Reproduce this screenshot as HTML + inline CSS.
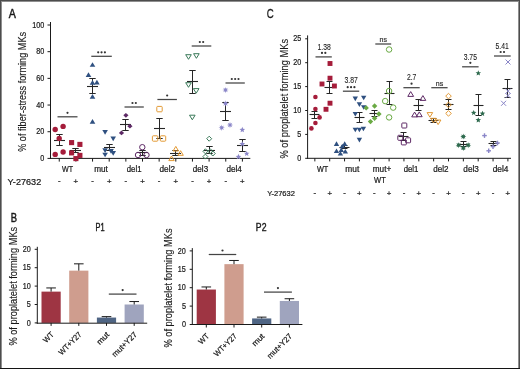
<!DOCTYPE html>
<html><head><meta charset="utf-8"><style>
html,body{margin:0;padding:0;background:#fff;}
body{width:520px;height:369px;overflow:hidden;}
svg{display:block;will-change:transform;font-family:"Liberation Sans",sans-serif;}
</style></head><body>
<svg width="520" height="369" viewBox="0 0 520 369">
<rect x="0" y="0" width="520" height="369" fill="#fff"/>
<text transform="translate(8.80,17.50) scale(0.86,1)" font-size="12.4" text-anchor="start" fill="#1a1a1a" stroke="#1a1a1a" stroke-width="0.5" >A</text>
<line x1="50.50" y1="22.00" x2="50.50" y2="158.90" stroke="#1a1a1a" stroke-width="1"/>
<line x1="50.00" y1="158.40" x2="250.30" y2="158.40" stroke="#1a1a1a" stroke-width="1"/>
<line x1="47.50" y1="158.40" x2="50.50" y2="158.40" stroke="#1a1a1a" stroke-width="1"/>
<text transform="translate(44.30,161.00) scale(0.86,1)" font-size="8.4" text-anchor="end" fill="#1a1a1a" stroke="#1a1a1a" stroke-width="0.22" >0</text>
<line x1="47.50" y1="131.72" x2="50.50" y2="131.72" stroke="#1a1a1a" stroke-width="1"/>
<text transform="translate(44.30,134.32) scale(0.86,1)" font-size="8.4" text-anchor="end" fill="#1a1a1a" stroke="#1a1a1a" stroke-width="0.22" >20</text>
<line x1="47.50" y1="105.04" x2="50.50" y2="105.04" stroke="#1a1a1a" stroke-width="1"/>
<text transform="translate(44.30,107.64) scale(0.86,1)" font-size="8.4" text-anchor="end" fill="#1a1a1a" stroke="#1a1a1a" stroke-width="0.22" >40</text>
<line x1="47.50" y1="78.36" x2="50.50" y2="78.36" stroke="#1a1a1a" stroke-width="1"/>
<text transform="translate(44.30,80.96) scale(0.86,1)" font-size="8.4" text-anchor="end" fill="#1a1a1a" stroke="#1a1a1a" stroke-width="0.22" >60</text>
<line x1="47.50" y1="51.68" x2="50.50" y2="51.68" stroke="#1a1a1a" stroke-width="1"/>
<text transform="translate(44.30,54.28) scale(0.86,1)" font-size="8.4" text-anchor="end" fill="#1a1a1a" stroke="#1a1a1a" stroke-width="0.22" >80</text>
<line x1="47.50" y1="25.00" x2="50.50" y2="25.00" stroke="#1a1a1a" stroke-width="1"/>
<text transform="translate(44.30,27.60) scale(0.86,1)" font-size="8.4" text-anchor="end" fill="#1a1a1a" stroke="#1a1a1a" stroke-width="0.22" >100</text>
<text transform="translate(25.90,91.90) rotate(-90) scale(0.915,1)" font-size="10" text-anchor="middle" fill="#1a1a1a" stroke="#1a1a1a" stroke-width="0.12" >% of fiber-stress forming MKs</text>
<line x1="59.25" y1="158.40" x2="59.25" y2="161.60" stroke="#1a1a1a" stroke-width="1"/>
<line x1="75.90" y1="158.40" x2="75.90" y2="161.60" stroke="#1a1a1a" stroke-width="1"/>
<line x1="92.55" y1="158.40" x2="92.55" y2="161.60" stroke="#1a1a1a" stroke-width="1"/>
<line x1="109.20" y1="158.40" x2="109.20" y2="161.60" stroke="#1a1a1a" stroke-width="1"/>
<line x1="125.85" y1="158.40" x2="125.85" y2="161.60" stroke="#1a1a1a" stroke-width="1"/>
<line x1="142.50" y1="158.40" x2="142.50" y2="161.60" stroke="#1a1a1a" stroke-width="1"/>
<line x1="159.15" y1="158.40" x2="159.15" y2="161.60" stroke="#1a1a1a" stroke-width="1"/>
<line x1="175.80" y1="158.40" x2="175.80" y2="161.60" stroke="#1a1a1a" stroke-width="1"/>
<line x1="192.45" y1="158.40" x2="192.45" y2="161.60" stroke="#1a1a1a" stroke-width="1"/>
<line x1="209.10" y1="158.40" x2="209.10" y2="161.60" stroke="#1a1a1a" stroke-width="1"/>
<line x1="225.75" y1="158.40" x2="225.75" y2="161.60" stroke="#1a1a1a" stroke-width="1"/>
<line x1="242.40" y1="158.40" x2="242.40" y2="161.60" stroke="#1a1a1a" stroke-width="1"/>
<text transform="translate(67.50,172.00) scale(0.87,1)" font-size="8.2" text-anchor="middle" fill="#1a1a1a" stroke="#1a1a1a" stroke-width="0.22" >WT</text>
<text transform="translate(101.00,172.00)" font-size="8.2" text-anchor="middle" fill="#1a1a1a" stroke="#1a1a1a" stroke-width="0.22" >mut</text>
<text transform="translate(134.15,172.00) scale(0.95,1)" font-size="8.2" text-anchor="middle" fill="#1a1a1a" stroke="#1a1a1a" stroke-width="0.22" >del1</text>
<text transform="translate(167.30,172.00)" font-size="8.2" text-anchor="middle" fill="#1a1a1a" stroke="#1a1a1a" stroke-width="0.22" >del2</text>
<text transform="translate(200.50,172.00) scale(0.99,1)" font-size="8.2" text-anchor="middle" fill="#1a1a1a" stroke="#1a1a1a" stroke-width="0.22" >del3</text>
<text transform="translate(234.10,172.00) scale(0.99,1)" font-size="8.2" text-anchor="middle" fill="#1a1a1a" stroke="#1a1a1a" stroke-width="0.22" >del4</text>
<text transform="translate(7.60,185.20) scale(0.95,1)" font-size="9.6" text-anchor="start" fill="#1a1a1a" stroke="#1a1a1a" stroke-width="0.22" >Y-27632</text>
<text transform="translate(59.25,183.40)" font-size="7.8" text-anchor="middle" fill="#1a1a1a" stroke="#1a1a1a" stroke-width="0.22" >-</text>
<text transform="translate(75.90,184.40)" font-size="7.8" text-anchor="middle" fill="#1a1a1a" stroke="#1a1a1a" stroke-width="0.22" >+</text>
<text transform="translate(92.55,183.40)" font-size="7.8" text-anchor="middle" fill="#1a1a1a" stroke="#1a1a1a" stroke-width="0.22" >-</text>
<text transform="translate(109.20,184.40)" font-size="7.8" text-anchor="middle" fill="#1a1a1a" stroke="#1a1a1a" stroke-width="0.22" >+</text>
<text transform="translate(125.85,183.40)" font-size="7.8" text-anchor="middle" fill="#1a1a1a" stroke="#1a1a1a" stroke-width="0.22" >-</text>
<text transform="translate(142.50,184.40)" font-size="7.8" text-anchor="middle" fill="#1a1a1a" stroke="#1a1a1a" stroke-width="0.22" >+</text>
<text transform="translate(159.15,183.40)" font-size="7.8" text-anchor="middle" fill="#1a1a1a" stroke="#1a1a1a" stroke-width="0.22" >-</text>
<text transform="translate(175.80,184.40)" font-size="7.8" text-anchor="middle" fill="#1a1a1a" stroke="#1a1a1a" stroke-width="0.22" >+</text>
<text transform="translate(192.45,183.40)" font-size="7.8" text-anchor="middle" fill="#1a1a1a" stroke="#1a1a1a" stroke-width="0.22" >-</text>
<text transform="translate(209.10,184.40)" font-size="7.8" text-anchor="middle" fill="#1a1a1a" stroke="#1a1a1a" stroke-width="0.22" >+</text>
<text transform="translate(225.75,183.40)" font-size="7.8" text-anchor="middle" fill="#1a1a1a" stroke="#1a1a1a" stroke-width="0.22" >-</text>
<text transform="translate(242.40,184.40)" font-size="7.8" text-anchor="middle" fill="#1a1a1a" stroke="#1a1a1a" stroke-width="0.22" >+</text>
<line x1="59.50" y1="134.50" x2="59.50" y2="145.50" stroke="#262626" stroke-width="1"/>
<line x1="56.30" y1="134.50" x2="62.70" y2="134.50" stroke="#262626" stroke-width="1"/>
<line x1="56.30" y1="145.50" x2="62.70" y2="145.50" stroke="#262626" stroke-width="1"/>
<line x1="54.00" y1="140.50" x2="65.00" y2="140.50" stroke="#262626" stroke-width="1.1"/>
<line x1="75.50" y1="148.50" x2="75.50" y2="152.50" stroke="#262626" stroke-width="1"/>
<line x1="72.30" y1="148.50" x2="78.70" y2="148.50" stroke="#262626" stroke-width="1"/>
<line x1="72.30" y1="152.50" x2="78.70" y2="152.50" stroke="#262626" stroke-width="1"/>
<line x1="70.00" y1="150.50" x2="81.00" y2="150.50" stroke="#262626" stroke-width="1.1"/>
<line x1="92.50" y1="78.50" x2="92.50" y2="93.50" stroke="#262626" stroke-width="1"/>
<line x1="89.30" y1="78.50" x2="95.70" y2="78.50" stroke="#262626" stroke-width="1"/>
<line x1="89.30" y1="93.50" x2="95.70" y2="93.50" stroke="#262626" stroke-width="1"/>
<line x1="87.00" y1="86.50" x2="98.00" y2="86.50" stroke="#262626" stroke-width="1.1"/>
<line x1="109.50" y1="144.50" x2="109.50" y2="150.50" stroke="#262626" stroke-width="1"/>
<line x1="106.30" y1="144.50" x2="112.70" y2="144.50" stroke="#262626" stroke-width="1"/>
<line x1="106.30" y1="150.50" x2="112.70" y2="150.50" stroke="#262626" stroke-width="1"/>
<line x1="104.00" y1="147.50" x2="115.00" y2="147.50" stroke="#262626" stroke-width="1.1"/>
<line x1="125.50" y1="119.50" x2="125.50" y2="130.50" stroke="#262626" stroke-width="1"/>
<line x1="122.30" y1="119.50" x2="128.70" y2="119.50" stroke="#262626" stroke-width="1"/>
<line x1="122.30" y1="130.50" x2="128.70" y2="130.50" stroke="#262626" stroke-width="1"/>
<line x1="120.00" y1="124.50" x2="131.00" y2="124.50" stroke="#262626" stroke-width="1.1"/>
<line x1="142.50" y1="150.50" x2="142.50" y2="155.50" stroke="#262626" stroke-width="1"/>
<line x1="139.30" y1="150.50" x2="145.70" y2="150.50" stroke="#262626" stroke-width="1"/>
<line x1="139.30" y1="155.50" x2="145.70" y2="155.50" stroke="#262626" stroke-width="1"/>
<line x1="137.00" y1="152.50" x2="148.00" y2="152.50" stroke="#262626" stroke-width="1.1"/>
<line x1="159.50" y1="118.50" x2="159.50" y2="138.50" stroke="#262626" stroke-width="1"/>
<line x1="156.30" y1="118.50" x2="162.70" y2="118.50" stroke="#262626" stroke-width="1"/>
<line x1="156.30" y1="138.50" x2="162.70" y2="138.50" stroke="#262626" stroke-width="1"/>
<line x1="154.00" y1="128.50" x2="165.00" y2="128.50" stroke="#262626" stroke-width="1.1"/>
<line x1="175.50" y1="150.50" x2="175.50" y2="155.50" stroke="#262626" stroke-width="1"/>
<line x1="172.30" y1="150.50" x2="178.70" y2="150.50" stroke="#262626" stroke-width="1"/>
<line x1="172.30" y1="155.50" x2="178.70" y2="155.50" stroke="#262626" stroke-width="1"/>
<line x1="170.00" y1="153.50" x2="181.00" y2="153.50" stroke="#262626" stroke-width="1.1"/>
<line x1="192.50" y1="70.50" x2="192.50" y2="93.50" stroke="#262626" stroke-width="1"/>
<line x1="189.30" y1="70.50" x2="195.70" y2="70.50" stroke="#262626" stroke-width="1"/>
<line x1="189.30" y1="93.50" x2="195.70" y2="93.50" stroke="#262626" stroke-width="1"/>
<line x1="187.00" y1="81.50" x2="198.00" y2="81.50" stroke="#262626" stroke-width="1.1"/>
<line x1="209.50" y1="146.50" x2="209.50" y2="153.50" stroke="#262626" stroke-width="1"/>
<line x1="206.30" y1="146.50" x2="212.70" y2="146.50" stroke="#262626" stroke-width="1"/>
<line x1="206.30" y1="153.50" x2="212.70" y2="153.50" stroke="#262626" stroke-width="1"/>
<line x1="204.00" y1="150.50" x2="215.00" y2="150.50" stroke="#262626" stroke-width="1.1"/>
<line x1="225.50" y1="102.50" x2="225.50" y2="120.50" stroke="#262626" stroke-width="1"/>
<line x1="222.30" y1="102.50" x2="228.70" y2="102.50" stroke="#262626" stroke-width="1"/>
<line x1="222.30" y1="120.50" x2="228.70" y2="120.50" stroke="#262626" stroke-width="1"/>
<line x1="220.00" y1="111.50" x2="231.00" y2="111.50" stroke="#262626" stroke-width="1.1"/>
<line x1="242.50" y1="139.50" x2="242.50" y2="151.50" stroke="#262626" stroke-width="1"/>
<line x1="239.30" y1="139.50" x2="245.70" y2="139.50" stroke="#262626" stroke-width="1"/>
<line x1="239.30" y1="151.50" x2="245.70" y2="151.50" stroke="#262626" stroke-width="1"/>
<line x1="237.00" y1="145.50" x2="248.00" y2="145.50" stroke="#262626" stroke-width="1.1"/>
<line x1="57.50" y1="116.80" x2="77.50" y2="116.80" stroke="#444" stroke-width="1.25"/>
<line x1="91.30" y1="56.30" x2="111.80" y2="56.30" stroke="#444" stroke-width="1.25"/>
<line x1="124.50" y1="107.00" x2="143.80" y2="107.00" stroke="#444" stroke-width="1.25"/>
<line x1="157.40" y1="99.50" x2="176.90" y2="99.50" stroke="#444" stroke-width="1.25"/>
<line x1="191.70" y1="46.00" x2="211.30" y2="46.00" stroke="#444" stroke-width="1.25"/>
<line x1="225.50" y1="83.00" x2="244.80" y2="83.00" stroke="#444" stroke-width="1.25"/>
<text transform="translate(266.80,18.10) scale(0.78,1)" font-size="12.4" text-anchor="start" fill="#1a1a1a" stroke="#1a1a1a" stroke-width="0.25" >C</text>
<line x1="307.60" y1="35.40" x2="307.60" y2="158.80" stroke="#1a1a1a" stroke-width="1"/>
<line x1="307.10" y1="158.30" x2="511.00" y2="158.30" stroke="#1a1a1a" stroke-width="1"/>
<line x1="305.20" y1="158.30" x2="307.60" y2="158.30" stroke="#1a1a1a" stroke-width="1"/>
<text transform="translate(301.20,160.90) scale(0.86,1)" font-size="8.4" text-anchor="end" fill="#1a1a1a" stroke="#1a1a1a" stroke-width="0.22" >0</text>
<line x1="305.20" y1="134.40" x2="307.60" y2="134.40" stroke="#1a1a1a" stroke-width="1"/>
<text transform="translate(301.20,137.00) scale(0.86,1)" font-size="8.4" text-anchor="end" fill="#1a1a1a" stroke="#1a1a1a" stroke-width="0.22" >5</text>
<line x1="305.20" y1="110.50" x2="307.60" y2="110.50" stroke="#1a1a1a" stroke-width="1"/>
<text transform="translate(301.20,113.10) scale(0.86,1)" font-size="8.4" text-anchor="end" fill="#1a1a1a" stroke="#1a1a1a" stroke-width="0.22" >10</text>
<line x1="305.20" y1="86.60" x2="307.60" y2="86.60" stroke="#1a1a1a" stroke-width="1"/>
<text transform="translate(301.20,89.20) scale(0.86,1)" font-size="8.4" text-anchor="end" fill="#1a1a1a" stroke="#1a1a1a" stroke-width="0.22" >15</text>
<line x1="305.20" y1="62.70" x2="307.60" y2="62.70" stroke="#1a1a1a" stroke-width="1"/>
<text transform="translate(301.20,65.30) scale(0.86,1)" font-size="8.4" text-anchor="end" fill="#1a1a1a" stroke="#1a1a1a" stroke-width="0.22" >20</text>
<line x1="305.20" y1="38.80" x2="307.60" y2="38.80" stroke="#1a1a1a" stroke-width="1"/>
<text transform="translate(301.20,41.40) scale(0.86,1)" font-size="8.4" text-anchor="end" fill="#1a1a1a" stroke="#1a1a1a" stroke-width="0.22" >25</text>
<text transform="translate(287.80,98.70) rotate(-90) scale(0.934,1)" font-size="10" text-anchor="middle" fill="#1a1a1a" stroke="#1a1a1a" stroke-width="0.12" >% of proplatelet forming MKs</text>
<line x1="314.85" y1="158.30" x2="314.85" y2="161.40" stroke="#1a1a1a" stroke-width="1"/>
<line x1="329.70" y1="158.30" x2="329.70" y2="161.40" stroke="#1a1a1a" stroke-width="1"/>
<line x1="344.55" y1="158.30" x2="344.55" y2="161.40" stroke="#1a1a1a" stroke-width="1"/>
<line x1="359.40" y1="158.30" x2="359.40" y2="161.40" stroke="#1a1a1a" stroke-width="1"/>
<line x1="374.25" y1="158.30" x2="374.25" y2="161.40" stroke="#1a1a1a" stroke-width="1"/>
<line x1="389.10" y1="158.30" x2="389.10" y2="161.40" stroke="#1a1a1a" stroke-width="1"/>
<line x1="403.95" y1="158.30" x2="403.95" y2="161.40" stroke="#1a1a1a" stroke-width="1"/>
<line x1="418.80" y1="158.30" x2="418.80" y2="161.40" stroke="#1a1a1a" stroke-width="1"/>
<line x1="433.65" y1="158.30" x2="433.65" y2="161.40" stroke="#1a1a1a" stroke-width="1"/>
<line x1="448.50" y1="158.30" x2="448.50" y2="161.40" stroke="#1a1a1a" stroke-width="1"/>
<line x1="463.35" y1="158.30" x2="463.35" y2="161.40" stroke="#1a1a1a" stroke-width="1"/>
<line x1="478.20" y1="158.30" x2="478.20" y2="161.40" stroke="#1a1a1a" stroke-width="1"/>
<line x1="493.05" y1="158.30" x2="493.05" y2="161.40" stroke="#1a1a1a" stroke-width="1"/>
<line x1="507.90" y1="158.30" x2="507.90" y2="161.40" stroke="#1a1a1a" stroke-width="1"/>
<text transform="translate(322.60,171.50) scale(0.89,1)" font-size="8.2" text-anchor="middle" fill="#1a1a1a" stroke="#1a1a1a" stroke-width="0.22" >WT</text>
<text transform="translate(352.30,171.50) scale(1.02,1)" font-size="8.2" text-anchor="middle" fill="#1a1a1a" stroke="#1a1a1a" stroke-width="0.22" >mut</text>
<text transform="translate(382.00,171.50)" font-size="8.2" text-anchor="middle" fill="#1a1a1a" stroke="#1a1a1a" stroke-width="0.22" >mut+</text>
<text transform="translate(411.00,171.50) scale(0.95,1)" font-size="8.2" text-anchor="middle" fill="#1a1a1a" stroke="#1a1a1a" stroke-width="0.22" >del1</text>
<text transform="translate(440.90,171.50) scale(0.985,1)" font-size="8.2" text-anchor="middle" fill="#1a1a1a" stroke="#1a1a1a" stroke-width="0.22" >del2</text>
<text transform="translate(471.10,171.50)" font-size="8.2" text-anchor="middle" fill="#1a1a1a" stroke="#1a1a1a" stroke-width="0.22" >del3</text>
<text transform="translate(500.60,171.50) scale(1.02,1)" font-size="8.2" text-anchor="middle" fill="#1a1a1a" stroke="#1a1a1a" stroke-width="0.22" >del4</text>
<text transform="translate(379.90,183.30) scale(0.92,1)" font-size="8.2" text-anchor="middle" fill="#1a1a1a" stroke="#1a1a1a" stroke-width="0.22" >WT</text>
<text transform="translate(267.20,195.50) scale(0.95,1)" font-size="7.9" text-anchor="start" fill="#1a1a1a" stroke="#1a1a1a" stroke-width="0.22" >Y-27632</text>
<text transform="translate(314.85,195.00)" font-size="7.8" text-anchor="middle" fill="#1a1a1a" stroke="#1a1a1a" stroke-width="0.22" >-</text>
<text transform="translate(329.70,195.80)" font-size="7.8" text-anchor="middle" fill="#1a1a1a" stroke="#1a1a1a" stroke-width="0.22" >+</text>
<text transform="translate(344.55,195.00)" font-size="7.8" text-anchor="middle" fill="#1a1a1a" stroke="#1a1a1a" stroke-width="0.22" >-</text>
<text transform="translate(359.40,195.80)" font-size="7.8" text-anchor="middle" fill="#1a1a1a" stroke="#1a1a1a" stroke-width="0.22" >+</text>
<text transform="translate(374.25,195.00)" font-size="7.8" text-anchor="middle" fill="#1a1a1a" stroke="#1a1a1a" stroke-width="0.22" >-</text>
<text transform="translate(389.10,195.80)" font-size="7.8" text-anchor="middle" fill="#1a1a1a" stroke="#1a1a1a" stroke-width="0.22" >+</text>
<text transform="translate(403.95,195.00)" font-size="7.8" text-anchor="middle" fill="#1a1a1a" stroke="#1a1a1a" stroke-width="0.22" >-</text>
<text transform="translate(418.80,195.80)" font-size="7.8" text-anchor="middle" fill="#1a1a1a" stroke="#1a1a1a" stroke-width="0.22" >+</text>
<text transform="translate(433.65,195.00)" font-size="7.8" text-anchor="middle" fill="#1a1a1a" stroke="#1a1a1a" stroke-width="0.22" >-</text>
<text transform="translate(448.50,195.80)" font-size="7.8" text-anchor="middle" fill="#1a1a1a" stroke="#1a1a1a" stroke-width="0.22" >+</text>
<text transform="translate(463.35,195.00)" font-size="7.8" text-anchor="middle" fill="#1a1a1a" stroke="#1a1a1a" stroke-width="0.22" >-</text>
<text transform="translate(478.20,195.80)" font-size="7.8" text-anchor="middle" fill="#1a1a1a" stroke="#1a1a1a" stroke-width="0.22" >+</text>
<text transform="translate(493.05,195.00)" font-size="7.8" text-anchor="middle" fill="#1a1a1a" stroke="#1a1a1a" stroke-width="0.22" >-</text>
<text transform="translate(507.90,195.80)" font-size="7.8" text-anchor="middle" fill="#1a1a1a" stroke="#1a1a1a" stroke-width="0.22" >+</text>
<line x1="314.50" y1="111.50" x2="314.50" y2="118.50" stroke="#262626" stroke-width="1"/>
<line x1="311.50" y1="111.50" x2="317.50" y2="111.50" stroke="#262626" stroke-width="1"/>
<line x1="311.50" y1="118.50" x2="317.50" y2="118.50" stroke="#262626" stroke-width="1"/>
<line x1="309.50" y1="114.50" x2="319.50" y2="114.50" stroke="#262626" stroke-width="1.1"/>
<line x1="329.50" y1="81.50" x2="329.50" y2="93.50" stroke="#262626" stroke-width="1"/>
<line x1="326.50" y1="81.50" x2="332.50" y2="81.50" stroke="#262626" stroke-width="1"/>
<line x1="326.50" y1="93.50" x2="332.50" y2="93.50" stroke="#262626" stroke-width="1"/>
<line x1="324.50" y1="87.50" x2="334.50" y2="87.50" stroke="#262626" stroke-width="1.1"/>
<line x1="344.50" y1="145.50" x2="344.50" y2="148.50" stroke="#262626" stroke-width="1"/>
<line x1="341.50" y1="145.50" x2="347.50" y2="145.50" stroke="#262626" stroke-width="1"/>
<line x1="341.50" y1="148.50" x2="347.50" y2="148.50" stroke="#262626" stroke-width="1"/>
<line x1="339.50" y1="147.50" x2="349.50" y2="147.50" stroke="#262626" stroke-width="1.1"/>
<line x1="359.50" y1="112.50" x2="359.50" y2="122.50" stroke="#262626" stroke-width="1"/>
<line x1="356.50" y1="112.50" x2="362.50" y2="112.50" stroke="#262626" stroke-width="1"/>
<line x1="356.50" y1="122.50" x2="362.50" y2="122.50" stroke="#262626" stroke-width="1"/>
<line x1="354.50" y1="117.50" x2="364.50" y2="117.50" stroke="#262626" stroke-width="1.1"/>
<line x1="374.50" y1="110.50" x2="374.50" y2="116.50" stroke="#262626" stroke-width="1"/>
<line x1="371.50" y1="110.50" x2="377.50" y2="110.50" stroke="#262626" stroke-width="1"/>
<line x1="371.50" y1="116.50" x2="377.50" y2="116.50" stroke="#262626" stroke-width="1"/>
<line x1="369.50" y1="113.50" x2="379.50" y2="113.50" stroke="#262626" stroke-width="1.1"/>
<line x1="389.50" y1="81.50" x2="389.50" y2="104.50" stroke="#262626" stroke-width="1"/>
<line x1="386.50" y1="81.50" x2="392.50" y2="81.50" stroke="#262626" stroke-width="1"/>
<line x1="386.50" y1="104.50" x2="392.50" y2="104.50" stroke="#262626" stroke-width="1"/>
<line x1="384.50" y1="93.50" x2="394.50" y2="93.50" stroke="#262626" stroke-width="1.1"/>
<line x1="403.50" y1="132.50" x2="403.50" y2="140.50" stroke="#262626" stroke-width="1"/>
<line x1="400.50" y1="132.50" x2="406.50" y2="132.50" stroke="#262626" stroke-width="1"/>
<line x1="400.50" y1="140.50" x2="406.50" y2="140.50" stroke="#262626" stroke-width="1"/>
<line x1="398.50" y1="136.50" x2="408.50" y2="136.50" stroke="#262626" stroke-width="1.1"/>
<line x1="418.50" y1="99.50" x2="418.50" y2="110.50" stroke="#262626" stroke-width="1"/>
<line x1="415.50" y1="99.50" x2="421.50" y2="99.50" stroke="#262626" stroke-width="1"/>
<line x1="415.50" y1="110.50" x2="421.50" y2="110.50" stroke="#262626" stroke-width="1"/>
<line x1="413.50" y1="105.50" x2="423.50" y2="105.50" stroke="#262626" stroke-width="1.1"/>
<line x1="433.50" y1="118.50" x2="433.50" y2="122.50" stroke="#262626" stroke-width="1"/>
<line x1="430.50" y1="118.50" x2="436.50" y2="118.50" stroke="#262626" stroke-width="1"/>
<line x1="430.50" y1="122.50" x2="436.50" y2="122.50" stroke="#262626" stroke-width="1"/>
<line x1="428.50" y1="120.50" x2="438.50" y2="120.50" stroke="#262626" stroke-width="1.1"/>
<line x1="448.50" y1="99.50" x2="448.50" y2="109.50" stroke="#262626" stroke-width="1"/>
<line x1="445.50" y1="99.50" x2="451.50" y2="99.50" stroke="#262626" stroke-width="1"/>
<line x1="445.50" y1="109.50" x2="451.50" y2="109.50" stroke="#262626" stroke-width="1"/>
<line x1="443.50" y1="104.50" x2="453.50" y2="104.50" stroke="#262626" stroke-width="1.1"/>
<line x1="463.50" y1="141.50" x2="463.50" y2="146.50" stroke="#262626" stroke-width="1"/>
<line x1="460.50" y1="141.50" x2="466.50" y2="141.50" stroke="#262626" stroke-width="1"/>
<line x1="460.50" y1="146.50" x2="466.50" y2="146.50" stroke="#262626" stroke-width="1"/>
<line x1="458.50" y1="144.50" x2="468.50" y2="144.50" stroke="#262626" stroke-width="1.1"/>
<line x1="478.50" y1="94.50" x2="478.50" y2="115.50" stroke="#262626" stroke-width="1"/>
<line x1="475.50" y1="94.50" x2="481.50" y2="94.50" stroke="#262626" stroke-width="1"/>
<line x1="475.50" y1="115.50" x2="481.50" y2="115.50" stroke="#262626" stroke-width="1"/>
<line x1="473.50" y1="105.50" x2="483.50" y2="105.50" stroke="#262626" stroke-width="1.1"/>
<line x1="493.50" y1="141.50" x2="493.50" y2="145.50" stroke="#262626" stroke-width="1"/>
<line x1="490.50" y1="141.50" x2="496.50" y2="141.50" stroke="#262626" stroke-width="1"/>
<line x1="490.50" y1="145.50" x2="496.50" y2="145.50" stroke="#262626" stroke-width="1"/>
<line x1="488.50" y1="143.50" x2="498.50" y2="143.50" stroke="#262626" stroke-width="1.1"/>
<line x1="507.50" y1="79.50" x2="507.50" y2="97.50" stroke="#262626" stroke-width="1"/>
<line x1="504.50" y1="79.50" x2="510.50" y2="79.50" stroke="#262626" stroke-width="1"/>
<line x1="504.50" y1="97.50" x2="510.50" y2="97.50" stroke="#262626" stroke-width="1"/>
<line x1="502.50" y1="88.50" x2="512.50" y2="88.50" stroke="#262626" stroke-width="1.1"/>
<line x1="315.50" y1="56.90" x2="331.80" y2="56.90" stroke="#444" stroke-width="1.25"/>
<text transform="translate(324.20,50.30) scale(0.81,1)" font-size="8.4" text-anchor="middle" fill="#1a1a1a" stroke="#1a1a1a" stroke-width="0.1" >1.38</text>
<line x1="342.90" y1="91.20" x2="359.20" y2="91.20" stroke="#444" stroke-width="1.25"/>
<text transform="translate(351.10,83.10) scale(0.81,1)" font-size="8.4" text-anchor="middle" fill="#1a1a1a" stroke="#1a1a1a" stroke-width="0.1" >3.87</text>
<line x1="375.30" y1="44.00" x2="391.20" y2="44.00" stroke="#444" stroke-width="1.25"/>
<text transform="translate(383.20,42.20) scale(0.92,1)" font-size="7.6" text-anchor="middle" fill="#333" stroke="#333" stroke-width="0.22" >ns</text>
<line x1="403.40" y1="87.70" x2="419.70" y2="87.70" stroke="#444" stroke-width="1.25"/>
<text transform="translate(411.60,80.20) scale(0.81,1)" font-size="8.4" text-anchor="middle" fill="#1a1a1a" stroke="#1a1a1a" stroke-width="0.1" >2.7</text>
<line x1="431.30" y1="87.70" x2="447.60" y2="87.70" stroke="#444" stroke-width="1.25"/>
<text transform="translate(439.50,86.00) scale(0.92,1)" font-size="7.6" text-anchor="middle" fill="#333" stroke="#333" stroke-width="0.22" >ns</text>
<line x1="462.10" y1="66.80" x2="478.60" y2="66.80" stroke="#444" stroke-width="1.25"/>
<text transform="translate(470.30,59.50) scale(0.81,1)" font-size="8.4" text-anchor="middle" fill="#1a1a1a" stroke="#1a1a1a" stroke-width="0.1" >3.75</text>
<line x1="494.00" y1="56.00" x2="510.70" y2="56.00" stroke="#444" stroke-width="1.25"/>
<text transform="translate(502.20,48.90) scale(0.81,1)" font-size="8.4" text-anchor="middle" fill="#1a1a1a" stroke="#1a1a1a" stroke-width="0.1" >5.41</text>
<text transform="translate(10.80,222.10) scale(0.76,1)" font-size="12.4" text-anchor="start" fill="#1a1a1a" stroke="#1a1a1a" stroke-width="0.5" >B</text>
<line x1="37.30" y1="246.80" x2="37.30" y2="323.70" stroke="#1a1a1a" stroke-width="1"/>
<line x1="34.70" y1="322.90" x2="37.30" y2="322.90" stroke="#1a1a1a" stroke-width="1"/>
<text transform="translate(30.70,325.50) scale(0.86,1)" font-size="8.4" text-anchor="end" fill="#1a1a1a" stroke="#1a1a1a" stroke-width="0.22" >0</text>
<line x1="34.70" y1="304.50" x2="37.30" y2="304.50" stroke="#1a1a1a" stroke-width="1"/>
<text transform="translate(30.70,307.10) scale(0.86,1)" font-size="8.4" text-anchor="end" fill="#1a1a1a" stroke="#1a1a1a" stroke-width="0.22" >5</text>
<line x1="34.70" y1="286.10" x2="37.30" y2="286.10" stroke="#1a1a1a" stroke-width="1"/>
<text transform="translate(30.70,288.70) scale(0.86,1)" font-size="8.4" text-anchor="end" fill="#1a1a1a" stroke="#1a1a1a" stroke-width="0.22" >10</text>
<line x1="34.70" y1="267.70" x2="37.30" y2="267.70" stroke="#1a1a1a" stroke-width="1"/>
<text transform="translate(30.70,270.30) scale(0.86,1)" font-size="8.4" text-anchor="end" fill="#1a1a1a" stroke="#1a1a1a" stroke-width="0.22" >15</text>
<line x1="34.70" y1="249.30" x2="37.30" y2="249.30" stroke="#1a1a1a" stroke-width="1"/>
<text transform="translate(30.70,251.90) scale(0.86,1)" font-size="8.4" text-anchor="end" fill="#1a1a1a" stroke="#1a1a1a" stroke-width="0.22" >20</text>
<text transform="translate(100.10,230.60) scale(0.73,1)" font-size="10.2" text-anchor="middle" fill="#1a1a1a" stroke="#1a1a1a" stroke-width="0.4" >P1</text>
<rect x="41.50" y="291.62" width="19.2" height="31.28" fill="#9e3543"/>
<line x1="51.10" y1="287.94" x2="51.10" y2="291.62" stroke="#1a1a1a" stroke-width="1"/>
<line x1="46.30" y1="287.94" x2="55.90" y2="287.94" stroke="#1a1a1a" stroke-width="1"/>
<rect x="69.20" y="270.64" width="19.2" height="52.26" fill="#cf9d8e"/>
<line x1="78.80" y1="263.84" x2="78.80" y2="270.64" stroke="#1a1a1a" stroke-width="1"/>
<line x1="74.00" y1="263.84" x2="83.60" y2="263.84" stroke="#1a1a1a" stroke-width="1"/>
<rect x="96.90" y="317.56" width="19.2" height="5.34" fill="#4f6584"/>
<line x1="106.50" y1="316.64" x2="106.50" y2="317.56" stroke="#1a1a1a" stroke-width="1"/>
<line x1="101.70" y1="316.64" x2="111.30" y2="316.64" stroke="#1a1a1a" stroke-width="1"/>
<rect x="124.60" y="304.50" width="19.2" height="18.40" fill="#9fa4be"/>
<line x1="134.20" y1="301.56" x2="134.20" y2="304.50" stroke="#1a1a1a" stroke-width="1"/>
<line x1="129.40" y1="301.56" x2="139.00" y2="301.56" stroke="#1a1a1a" stroke-width="1"/>
<line x1="36.80" y1="323.20" x2="147.20" y2="323.20" stroke="#1a1a1a" stroke-width="1"/>
<line x1="51.10" y1="322.90" x2="51.10" y2="325.90" stroke="#1a1a1a" stroke-width="1"/>
<line x1="78.80" y1="322.90" x2="78.80" y2="325.90" stroke="#1a1a1a" stroke-width="1"/>
<line x1="106.50" y1="322.90" x2="106.50" y2="325.90" stroke="#1a1a1a" stroke-width="1"/>
<line x1="134.20" y1="322.90" x2="134.20" y2="325.90" stroke="#1a1a1a" stroke-width="1"/>
<text transform="translate(54.40,335.10) rotate(-45) scale(0.93,1)" font-size="7.9" text-anchor="end" fill="#1a1a1a" stroke="#1a1a1a" stroke-width="0.22" >WT</text>
<text transform="translate(82.10,335.10) rotate(-45) scale(0.93,1)" font-size="7.9" text-anchor="end" fill="#1a1a1a" stroke="#1a1a1a" stroke-width="0.22" >WT+Y27</text>
<text transform="translate(109.80,335.10) rotate(-45) scale(1.08,1)" font-size="7.9" text-anchor="end" fill="#1a1a1a" stroke="#1a1a1a" stroke-width="0.22" >mut</text>
<text transform="translate(137.50,335.10) rotate(-45)" font-size="7.9" text-anchor="end" fill="#1a1a1a" stroke="#1a1a1a" stroke-width="0.22" >mut+Y27</text>
<text transform="translate(16.50,286.20) rotate(-90) scale(0.926,1)" font-size="10" text-anchor="middle" fill="#1a1a1a" stroke="#1a1a1a" stroke-width="0.12" >% of proplatelet forming MKs</text>
<line x1="108.80" y1="294.10" x2="136.50" y2="294.10" stroke="#444" stroke-width="1.25"/>
<line x1="192.30" y1="248.10" x2="192.30" y2="325.00" stroke="#1a1a1a" stroke-width="1"/>
<line x1="189.70" y1="324.50" x2="192.30" y2="324.50" stroke="#1a1a1a" stroke-width="1"/>
<text transform="translate(185.90,327.10) scale(0.86,1)" font-size="8.4" text-anchor="end" fill="#1a1a1a" stroke="#1a1a1a" stroke-width="0.22" >0</text>
<line x1="189.70" y1="306.10" x2="192.30" y2="306.10" stroke="#1a1a1a" stroke-width="1"/>
<text transform="translate(185.90,308.70) scale(0.86,1)" font-size="8.4" text-anchor="end" fill="#1a1a1a" stroke="#1a1a1a" stroke-width="0.22" >5</text>
<line x1="189.70" y1="287.70" x2="192.30" y2="287.70" stroke="#1a1a1a" stroke-width="1"/>
<text transform="translate(185.90,290.30) scale(0.86,1)" font-size="8.4" text-anchor="end" fill="#1a1a1a" stroke="#1a1a1a" stroke-width="0.22" >10</text>
<line x1="189.70" y1="269.30" x2="192.30" y2="269.30" stroke="#1a1a1a" stroke-width="1"/>
<text transform="translate(185.90,271.90) scale(0.86,1)" font-size="8.4" text-anchor="end" fill="#1a1a1a" stroke="#1a1a1a" stroke-width="0.22" >15</text>
<line x1="189.70" y1="250.90" x2="192.30" y2="250.90" stroke="#1a1a1a" stroke-width="1"/>
<text transform="translate(185.90,253.50) scale(0.86,1)" font-size="8.4" text-anchor="end" fill="#1a1a1a" stroke="#1a1a1a" stroke-width="0.22" >20</text>
<text transform="translate(261.15,230.60) scale(0.85,1)" font-size="10.2" text-anchor="middle" fill="#1a1a1a" stroke="#1a1a1a" stroke-width="0.4" >P2</text>
<rect x="196.70" y="289.54" width="19.2" height="34.96" fill="#9e3543"/>
<line x1="206.30" y1="286.96" x2="206.30" y2="289.54" stroke="#1a1a1a" stroke-width="1"/>
<line x1="201.50" y1="286.96" x2="211.10" y2="286.96" stroke="#1a1a1a" stroke-width="1"/>
<rect x="224.40" y="264.15" width="19.2" height="60.35" fill="#cf9d8e"/>
<line x1="234.00" y1="260.47" x2="234.00" y2="264.15" stroke="#1a1a1a" stroke-width="1"/>
<line x1="229.20" y1="260.47" x2="238.80" y2="260.47" stroke="#1a1a1a" stroke-width="1"/>
<rect x="252.10" y="318.43" width="19.2" height="6.07" fill="#4f6584"/>
<line x1="261.70" y1="317.14" x2="261.70" y2="318.43" stroke="#1a1a1a" stroke-width="1"/>
<line x1="256.90" y1="317.14" x2="266.50" y2="317.14" stroke="#1a1a1a" stroke-width="1"/>
<rect x="279.80" y="300.95" width="19.2" height="23.55" fill="#9fa4be"/>
<line x1="289.40" y1="298.74" x2="289.40" y2="300.95" stroke="#1a1a1a" stroke-width="1"/>
<line x1="284.60" y1="298.74" x2="294.20" y2="298.74" stroke="#1a1a1a" stroke-width="1"/>
<line x1="191.80" y1="324.50" x2="302.40" y2="324.50" stroke="#1a1a1a" stroke-width="1"/>
<line x1="206.30" y1="324.50" x2="206.30" y2="327.50" stroke="#1a1a1a" stroke-width="1"/>
<line x1="234.00" y1="324.50" x2="234.00" y2="327.50" stroke="#1a1a1a" stroke-width="1"/>
<line x1="261.70" y1="324.50" x2="261.70" y2="327.50" stroke="#1a1a1a" stroke-width="1"/>
<line x1="289.40" y1="324.50" x2="289.40" y2="327.50" stroke="#1a1a1a" stroke-width="1"/>
<text transform="translate(209.60,336.70) rotate(-45) scale(0.93,1)" font-size="7.9" text-anchor="end" fill="#1a1a1a" stroke="#1a1a1a" stroke-width="0.22" >WT</text>
<text transform="translate(237.30,336.70) rotate(-45) scale(0.93,1)" font-size="7.9" text-anchor="end" fill="#1a1a1a" stroke="#1a1a1a" stroke-width="0.22" >WT+Y27</text>
<text transform="translate(265.00,336.70) rotate(-45) scale(1.08,1)" font-size="7.9" text-anchor="end" fill="#1a1a1a" stroke="#1a1a1a" stroke-width="0.22" >mut</text>
<text transform="translate(292.70,336.70) rotate(-45)" font-size="7.9" text-anchor="end" fill="#1a1a1a" stroke="#1a1a1a" stroke-width="0.22" >mut+Y27</text>
<text transform="translate(171.60,287.95) rotate(-90) scale(0.929,1)" font-size="10" text-anchor="middle" fill="#1a1a1a" stroke="#1a1a1a" stroke-width="0.12" >% of proplatelet forming MKs</text>
<line x1="208.75" y1="254.50" x2="236.25" y2="254.50" stroke="#444" stroke-width="1.25"/>
<line x1="264.00" y1="292.10" x2="291.90" y2="292.10" stroke="#444" stroke-width="1.25"/>
<circle cx="55.20" cy="129.50" r="2.7" fill="#a51c3a"/>
<circle cx="63.10" cy="126.40" r="2.7" fill="#a51c3a"/>
<circle cx="59.20" cy="138.40" r="2.7" fill="#a51c3a"/>
<circle cx="63.10" cy="152.00" r="2.7" fill="#a51c3a"/>
<circle cx="55.20" cy="154.40" r="2.7" fill="#a51c3a"/>
<rect x="69.05" y="140.05" width="5.1" height="5.1" fill="#a51c3a"/>
<rect x="77.35" y="141.85" width="5.1" height="5.1" fill="#a51c3a"/>
<rect x="69.05" y="150.35" width="5.1" height="5.1" fill="#a51c3a"/>
<rect x="77.35" y="152.85" width="5.1" height="5.1" fill="#a51c3a"/>
<rect x="73.35" y="156.05" width="5.1" height="5.1" fill="#a51c3a"/>
<polygon points="92.50,62.15 95.30,66.85 89.70,66.85" fill="#2f5080" stroke="none" stroke-width="1" stroke-linejoin="round"/>
<polygon points="88.50,72.35 91.30,77.05 85.70,77.05" fill="#2f5080" stroke="none" stroke-width="1" stroke-linejoin="round"/>
<polygon points="92.50,80.05 95.30,84.75 89.70,84.75" fill="#2f5080" stroke="none" stroke-width="1" stroke-linejoin="round"/>
<polygon points="96.90,79.85 99.70,84.55 94.10,84.55" fill="#2f5080" stroke="none" stroke-width="1" stroke-linejoin="round"/>
<polygon points="92.50,93.95 95.30,98.65 89.70,98.65" fill="#2f5080" stroke="none" stroke-width="1" stroke-linejoin="round"/>
<polygon points="92.50,118.95 95.30,123.65 89.70,123.65" fill="#2f5080" stroke="none" stroke-width="1" stroke-linejoin="round"/>
<polygon points="105.10,134.75 107.90,130.05 102.30,130.05" fill="#2f5080" stroke="none" stroke-width="1" stroke-linejoin="round"/>
<polygon points="113.20,141.15 116.00,136.45 110.40,136.45" fill="#2f5080" stroke="none" stroke-width="1" stroke-linejoin="round"/>
<polygon points="105.10,152.95 107.90,148.25 102.30,148.25" fill="#2f5080" stroke="none" stroke-width="1" stroke-linejoin="round"/>
<polygon points="105.10,157.35 107.90,152.65 102.30,152.65" fill="#2f5080" stroke="none" stroke-width="1" stroke-linejoin="round"/>
<polygon points="111.00,153.65 113.80,148.95 108.20,148.95" fill="#2f5080" stroke="none" stroke-width="1" stroke-linejoin="round"/>
<polygon points="113.20,155.65 116.00,150.95 110.40,150.95" fill="#2f5080" stroke="none" stroke-width="1" stroke-linejoin="round"/>
<polygon points="125.90,112.90 128.50,115.30 125.90,117.70 123.30,115.30" fill="#5e2a66" stroke="none" stroke-width="1" stroke-linejoin="round"/>
<polygon points="129.90,123.80 132.50,126.20 129.90,128.60 127.30,126.20" fill="#5e2a66" stroke="none" stroke-width="1" stroke-linejoin="round"/>
<polygon points="121.50,130.50 124.10,132.90 121.50,135.30 118.90,132.90" fill="#5e2a66" stroke="none" stroke-width="1" stroke-linejoin="round"/>
<circle cx="142.30" cy="147.20" r="2.7" fill="none" stroke="#5e2a66" stroke-width="1"/>
<circle cx="138.00" cy="155.00" r="2.7" fill="none" stroke="#5e2a66" stroke-width="1"/>
<circle cx="146.50" cy="155.00" r="2.7" fill="none" stroke="#5e2a66" stroke-width="1"/>
<rect x="156.80" y="106.40" width="5.4" height="5.4" rx="0.8" fill="none" stroke="#e39a35" stroke-width="1"/>
<rect x="152.40" y="135.80" width="5.4" height="5.4" rx="0.8" fill="none" stroke="#e39a35" stroke-width="1"/>
<rect x="160.30" y="135.80" width="5.4" height="5.4" rx="0.8" fill="none" stroke="#e39a35" stroke-width="1"/>
<polygon points="175.80,146.40 178.50,151.00 173.10,151.00" fill="none" stroke="#e39a35" stroke-width="1" stroke-linejoin="round"/>
<polygon points="180.60,150.70 183.30,155.30 177.90,155.30" fill="none" stroke="#e39a35" stroke-width="1" stroke-linejoin="round"/>
<polygon points="171.50,156.00 174.20,160.60 168.80,160.60" fill="none" stroke="#e39a35" stroke-width="1" stroke-linejoin="round"/>
<polygon points="188.50,59.30 191.30,54.70 185.70,54.70" fill="none" stroke="#3b7a5a" stroke-width="1" stroke-linejoin="round"/>
<polygon points="196.40,58.30 199.20,53.70 193.60,53.70" fill="none" stroke="#3b7a5a" stroke-width="1" stroke-linejoin="round"/>
<polygon points="188.50,87.30 191.30,82.70 185.70,82.70" fill="none" stroke="#3b7a5a" stroke-width="1" stroke-linejoin="round"/>
<polygon points="196.20,93.20 199.00,88.60 193.40,88.60" fill="none" stroke="#3b7a5a" stroke-width="1" stroke-linejoin="round"/>
<polygon points="192.30,119.80 195.10,115.20 189.50,115.20" fill="none" stroke="#3b7a5a" stroke-width="1" stroke-linejoin="round"/>
<polygon points="209.20,136.20 211.70,138.70 209.20,141.20 206.70,138.70" fill="none" stroke="#3b7a5a" stroke-width="1" stroke-linejoin="round"/>
<polygon points="205.40,148.80 207.90,151.30 205.40,153.80 202.90,151.30" fill="none" stroke="#3b7a5a" stroke-width="1" stroke-linejoin="round"/>
<polygon points="212.80,151.00 215.30,153.50 212.80,156.00 210.30,153.50" fill="none" stroke="#3b7a5a" stroke-width="1" stroke-linejoin="round"/>
<polygon points="205.40,154.10 207.90,156.60 205.40,159.10 202.90,156.60" fill="none" stroke="#3b7a5a" stroke-width="1" stroke-linejoin="round"/>
<polygon points="210.30,148.80 212.80,151.30 210.30,153.80 207.80,151.30" fill="none" stroke="#3b7a5a" stroke-width="1" stroke-linejoin="round"/>
<polygon points="225.50,86.90 226.01,88.86 227.76,87.84 226.74,89.59 228.70,90.10 226.74,90.61 227.76,92.36 226.01,91.34 225.50,93.30 224.99,91.34 223.24,92.36 224.26,90.61 222.30,90.10 224.26,89.59 223.24,87.84 224.99,88.86" fill="#8a86c8" stroke="none" stroke-width="1" stroke-linejoin="round"/>
<polygon points="225.50,100.30 226.01,102.26 227.76,101.24 226.74,102.99 228.70,103.50 226.74,104.01 227.76,105.76 226.01,104.74 225.50,106.70 224.99,104.74 223.24,105.76 224.26,104.01 222.30,103.50 224.26,102.99 223.24,101.24 224.99,102.26" fill="#8a86c8" stroke="none" stroke-width="1" stroke-linejoin="round"/>
<polygon points="221.70,124.50 222.21,126.46 223.96,125.44 222.94,127.19 224.90,127.70 222.94,128.21 223.96,129.96 222.21,128.94 221.70,130.90 221.19,128.94 219.44,129.96 220.46,128.21 218.50,127.70 220.46,127.19 219.44,125.44 221.19,126.46" fill="#8a86c8" stroke="none" stroke-width="1" stroke-linejoin="round"/>
<polygon points="230.00,121.80 230.51,123.76 232.26,122.74 231.24,124.49 233.20,125.00 231.24,125.51 232.26,127.26 230.51,126.24 230.00,128.20 229.49,126.24 227.74,127.26 228.76,125.51 226.80,125.00 228.76,124.49 227.74,122.74 229.49,123.76" fill="#8a86c8" stroke="none" stroke-width="1" stroke-linejoin="round"/>
<polygon points="242.30,126.85 243.08,128.73 245.11,128.89 243.56,130.21 244.03,132.19 242.30,131.13 240.57,132.19 241.04,130.21 239.49,128.89 241.52,128.73" fill="#8a86c8" stroke="none" stroke-width="1" stroke-linejoin="round"/>
<polygon points="242.30,141.05 243.08,142.93 245.11,143.09 243.56,144.41 244.03,146.39 242.30,145.33 240.57,146.39 241.04,144.41 239.49,143.09 241.52,142.93" fill="#8a86c8" stroke="none" stroke-width="1" stroke-linejoin="round"/>
<polygon points="246.70,150.75 247.48,152.63 249.51,152.79 247.96,154.11 248.43,156.09 246.70,155.03 244.97,156.09 245.44,154.11 243.89,152.79 245.92,152.63" fill="#8a86c8" stroke="none" stroke-width="1" stroke-linejoin="round"/>
<polygon points="238.50,153.85 239.28,155.73 241.31,155.89 239.76,157.21 240.23,159.19 238.50,158.13 236.77,159.19 237.24,157.21 235.69,155.89 237.72,155.73" fill="#8a86c8" stroke="none" stroke-width="1" stroke-linejoin="round"/>
<circle cx="67.50" cy="112.80" r="1.1" fill="#333"/>
<circle cx="98.20" cy="52.30" r="1.1" fill="#333"/>
<circle cx="101.55" cy="52.30" r="1.1" fill="#333"/>
<circle cx="104.90" cy="52.30" r="1.1" fill="#333"/>
<circle cx="132.47" cy="103.00" r="1.1" fill="#333"/>
<circle cx="135.83" cy="103.00" r="1.1" fill="#333"/>
<circle cx="167.15" cy="95.50" r="1.1" fill="#333"/>
<circle cx="199.82" cy="42.00" r="1.1" fill="#333"/>
<circle cx="203.18" cy="42.00" r="1.1" fill="#333"/>
<circle cx="231.80" cy="79.00" r="1.1" fill="#333"/>
<circle cx="235.15" cy="79.00" r="1.1" fill="#333"/>
<circle cx="238.50" cy="79.00" r="1.1" fill="#333"/>
<circle cx="315.40" cy="97.00" r="2.3" fill="#a51c3a"/>
<circle cx="315.40" cy="109.00" r="2.3" fill="#a51c3a"/>
<circle cx="319.60" cy="117.40" r="2.3" fill="#a51c3a"/>
<circle cx="315.40" cy="123.00" r="2.3" fill="#a51c3a"/>
<circle cx="311.40" cy="128.40" r="2.3" fill="#a51c3a"/>
<rect x="327.55" y="61.05" width="4.9" height="4.9" fill="#a51c3a"/>
<rect x="327.55" y="75.75" width="4.9" height="4.9" fill="#a51c3a"/>
<rect x="319.55" y="81.55" width="4.9" height="4.9" fill="#a51c3a"/>
<rect x="331.95" y="83.55" width="4.9" height="4.9" fill="#a51c3a"/>
<rect x="327.55" y="100.75" width="4.9" height="4.9" fill="#a51c3a"/>
<rect x="323.55" y="106.85" width="4.9" height="4.9" fill="#a51c3a"/>
<polygon points="336.50,141.30 339.20,145.90 333.80,145.90" fill="#2f5080" stroke="none" stroke-width="1" stroke-linejoin="round"/>
<polygon points="344.70,141.30 347.40,145.90 342.00,145.90" fill="#2f5080" stroke="none" stroke-width="1" stroke-linejoin="round"/>
<polygon points="342.30,143.70 345.00,148.30 339.60,148.30" fill="#2f5080" stroke="none" stroke-width="1" stroke-linejoin="round"/>
<polygon points="336.50,148.40 339.20,153.00 333.80,153.00" fill="#2f5080" stroke="none" stroke-width="1" stroke-linejoin="round"/>
<polygon points="341.30,147.40 344.00,152.00 338.60,152.00" fill="#2f5080" stroke="none" stroke-width="1" stroke-linejoin="round"/>
<polygon points="345.30,149.00 348.00,153.60 342.60,153.60" fill="#2f5080" stroke="none" stroke-width="1" stroke-linejoin="round"/>
<polygon points="340.40,151.00 343.10,155.60 337.70,155.60" fill="#2f5080" stroke="none" stroke-width="1" stroke-linejoin="round"/>
<polygon points="355.30,101.20 358.00,96.60 352.60,96.60" fill="#2f5080" stroke="none" stroke-width="1" stroke-linejoin="round"/>
<polygon points="363.70,100.30 366.40,95.70 361.00,95.70" fill="#2f5080" stroke="none" stroke-width="1" stroke-linejoin="round"/>
<polygon points="359.40,106.90 362.10,102.30 356.70,102.30" fill="#2f5080" stroke="none" stroke-width="1" stroke-linejoin="round"/>
<polygon points="363.70,109.80 366.40,105.20 361.00,105.20" fill="#2f5080" stroke="none" stroke-width="1" stroke-linejoin="round"/>
<polygon points="355.30,116.60 358.00,112.00 352.60,112.00" fill="#2f5080" stroke="none" stroke-width="1" stroke-linejoin="round"/>
<polygon points="355.30,132.30 358.00,127.70 352.60,127.70" fill="#2f5080" stroke="none" stroke-width="1" stroke-linejoin="round"/>
<polygon points="359.40,132.30 362.10,127.70 356.70,127.70" fill="#2f5080" stroke="none" stroke-width="1" stroke-linejoin="round"/>
<polygon points="363.40,131.30 366.10,126.70 360.70,126.70" fill="#2f5080" stroke="none" stroke-width="1" stroke-linejoin="round"/>
<polygon points="359.40,142.40 362.10,137.80 356.70,137.80" fill="#2f5080" stroke="none" stroke-width="1" stroke-linejoin="round"/>
<polygon points="366.20,105.20 368.90,107.90 366.20,110.60 363.50,107.90" fill="#6aaa44" stroke="none" stroke-width="1" stroke-linejoin="round"/>
<polygon points="374.60,103.30 377.30,106.00 374.60,108.70 371.90,106.00" fill="#6aaa44" stroke="none" stroke-width="1" stroke-linejoin="round"/>
<polygon points="378.90,111.30 381.60,114.00 378.90,116.70 376.20,114.00" fill="#6aaa44" stroke="none" stroke-width="1" stroke-linejoin="round"/>
<polygon points="374.60,115.60 377.30,118.30 374.60,121.00 371.90,118.30" fill="#6aaa44" stroke="none" stroke-width="1" stroke-linejoin="round"/>
<polygon points="370.50,118.90 373.20,121.60 370.50,124.30 367.80,121.60" fill="#6aaa44" stroke="none" stroke-width="1" stroke-linejoin="round"/>
<circle cx="389.10" cy="49.50" r="2.75" fill="none" stroke="#6aaa44" stroke-width="1"/>
<circle cx="385.20" cy="101.10" r="2.75" fill="none" stroke="#6aaa44" stroke-width="1"/>
<circle cx="393.20" cy="107.60" r="2.75" fill="none" stroke="#6aaa44" stroke-width="1"/>
<circle cx="389.10" cy="117.40" r="2.75" fill="none" stroke="#6aaa44" stroke-width="1"/>
<circle cx="389.10" cy="91.00" r="2.75" fill="none" stroke="#6aaa44" stroke-width="1"/>
<rect x="401.80" y="123.00" width="5.0" height="5.0" rx="0.8" fill="none" stroke="#5e2a66" stroke-width="1"/>
<rect x="397.80" y="135.30" width="5.0" height="5.0" rx="0.8" fill="none" stroke="#5e2a66" stroke-width="1"/>
<rect x="405.60" y="137.80" width="5.0" height="5.0" rx="0.8" fill="none" stroke="#5e2a66" stroke-width="1"/>
<rect x="401.30" y="139.90" width="5.0" height="5.0" rx="0.8" fill="none" stroke="#5e2a66" stroke-width="1"/>
<polygon points="410.70,91.60 413.60,96.40 407.80,96.40" fill="none" stroke="#5e2a66" stroke-width="1" stroke-linejoin="round"/>
<polygon points="422.90,95.60 425.80,100.40 420.00,100.40" fill="none" stroke="#5e2a66" stroke-width="1" stroke-linejoin="round"/>
<polygon points="414.60,112.10 417.50,116.90 411.70,116.90" fill="none" stroke="#5e2a66" stroke-width="1" stroke-linejoin="round"/>
<polygon points="419.30,111.90 422.20,116.70 416.40,116.70" fill="none" stroke="#5e2a66" stroke-width="1" stroke-linejoin="round"/>
<polygon points="429.90,117.20 432.70,112.60 427.10,112.60" fill="none" stroke="#e39a35" stroke-width="1" stroke-linejoin="round"/>
<polygon points="433.50,122.90 436.30,118.30 430.70,118.30" fill="none" stroke="#e39a35" stroke-width="1" stroke-linejoin="round"/>
<polygon points="438.10,124.60 440.90,120.00 435.30,120.00" fill="none" stroke="#e39a35" stroke-width="1" stroke-linejoin="round"/>
<polygon points="448.50,93.30 451.30,96.10 448.50,98.90 445.70,96.10" fill="none" stroke="#e39a35" stroke-width="1" stroke-linejoin="round"/>
<polygon points="448.50,102.10 451.30,104.90 448.50,107.70 445.70,104.90" fill="none" stroke="#e39a35" stroke-width="1" stroke-linejoin="round"/>
<polygon points="448.50,110.60 451.30,113.40 448.50,116.20 445.70,113.40" fill="none" stroke="#e39a35" stroke-width="1" stroke-linejoin="round"/>
<polygon points="463.30,133.60 463.87,135.21 465.42,134.48 464.69,136.03 466.30,136.60 464.69,137.17 465.42,138.72 463.87,137.99 463.30,139.60 462.73,137.99 461.18,138.72 461.91,137.17 460.30,136.60 461.91,136.03 461.18,134.48 462.73,135.21" fill="#2e6a4e" stroke="none" stroke-width="1" stroke-linejoin="round"/>
<polygon points="458.60,142.20 459.17,143.81 460.72,143.08 459.99,144.63 461.60,145.20 459.99,145.77 460.72,147.32 459.17,146.59 458.60,148.20 458.03,146.59 456.48,147.32 457.21,145.77 455.60,145.20 457.21,144.63 456.48,143.08 458.03,143.81" fill="#2e6a4e" stroke="none" stroke-width="1" stroke-linejoin="round"/>
<polygon points="468.20,142.20 468.77,143.81 470.32,143.08 469.59,144.63 471.20,145.20 469.59,145.77 470.32,147.32 468.77,146.59 468.20,148.20 467.63,146.59 466.08,147.32 466.81,145.77 465.20,145.20 466.81,144.63 466.08,143.08 467.63,143.81" fill="#2e6a4e" stroke="none" stroke-width="1" stroke-linejoin="round"/>
<polygon points="463.30,145.00 463.87,146.61 465.42,145.88 464.69,147.43 466.30,148.00 464.69,148.57 465.42,150.12 463.87,149.39 463.30,151.00 462.73,149.39 461.18,150.12 461.91,148.57 460.30,148.00 461.91,147.43 461.18,145.88 462.73,146.61" fill="#2e6a4e" stroke="none" stroke-width="1" stroke-linejoin="round"/>
<polygon points="478.30,70.30 479.07,72.14 481.06,72.30 479.54,73.60 480.00,75.55 478.30,74.51 476.60,75.55 477.06,73.60 475.54,72.30 477.53,72.14" fill="#2e6a4e" stroke="none" stroke-width="1" stroke-linejoin="round"/>
<polygon points="473.70,109.90 474.47,111.74 476.46,111.90 474.94,113.20 475.40,115.15 473.70,114.11 472.00,115.15 472.46,113.20 470.94,111.90 472.93,111.74" fill="#2e6a4e" stroke="none" stroke-width="1" stroke-linejoin="round"/>
<polygon points="482.50,110.70 483.27,112.54 485.26,112.70 483.74,114.00 484.20,115.95 482.50,114.91 480.80,115.95 481.26,114.00 479.74,112.70 481.73,112.54" fill="#2e6a4e" stroke="none" stroke-width="1" stroke-linejoin="round"/>
<polygon points="478.30,117.20 479.07,119.04 481.06,119.20 479.54,120.50 480.00,122.45 478.30,121.41 476.60,122.45 477.06,120.50 475.54,119.20 477.53,119.04" fill="#2e6a4e" stroke="none" stroke-width="1" stroke-linejoin="round"/>
<line x1="482.20" y1="135.60" x2="486.80" y2="135.60" stroke="#8a86c8" stroke-width="1.4"/>
<line x1="484.50" y1="133.30" x2="484.50" y2="137.90" stroke="#8a86c8" stroke-width="1.4"/>
<line x1="495.20" y1="143.00" x2="499.80" y2="143.00" stroke="#8a86c8" stroke-width="1.4"/>
<line x1="497.50" y1="140.70" x2="497.50" y2="145.30" stroke="#8a86c8" stroke-width="1.4"/>
<line x1="490.70" y1="146.60" x2="495.30" y2="146.60" stroke="#8a86c8" stroke-width="1.4"/>
<line x1="493.00" y1="144.30" x2="493.00" y2="148.90" stroke="#8a86c8" stroke-width="1.4"/>
<line x1="486.40" y1="150.80" x2="491.00" y2="150.80" stroke="#8a86c8" stroke-width="1.4"/>
<line x1="488.70" y1="148.50" x2="488.70" y2="153.10" stroke="#8a86c8" stroke-width="1.4"/>
<line x1="505.50" y1="59.50" x2="510.50" y2="64.50" stroke="#8a86c8" stroke-width="1.0"/>
<line x1="505.50" y1="64.50" x2="510.50" y2="59.50" stroke="#8a86c8" stroke-width="1.0"/>
<line x1="505.50" y1="88.70" x2="510.50" y2="93.70" stroke="#8a86c8" stroke-width="1.0"/>
<line x1="505.50" y1="93.70" x2="510.50" y2="88.70" stroke="#8a86c8" stroke-width="1.0"/>
<line x1="505.50" y1="93.10" x2="510.50" y2="98.10" stroke="#8a86c8" stroke-width="1.0"/>
<line x1="505.50" y1="98.10" x2="510.50" y2="93.10" stroke="#8a86c8" stroke-width="1.0"/>
<line x1="501.10" y1="100.80" x2="506.10" y2="105.80" stroke="#8a86c8" stroke-width="1.0"/>
<line x1="501.10" y1="105.80" x2="506.10" y2="100.80" stroke="#8a86c8" stroke-width="1.0"/>
<circle cx="321.97" cy="52.90" r="1.1" fill="#333"/>
<circle cx="325.32" cy="52.90" r="1.1" fill="#333"/>
<circle cx="347.70" cy="87.20" r="1.1" fill="#333"/>
<circle cx="351.05" cy="87.20" r="1.1" fill="#333"/>
<circle cx="354.40" cy="87.20" r="1.1" fill="#333"/>
<circle cx="411.55" cy="83.70" r="1.1" fill="#333"/>
<circle cx="470.35" cy="62.80" r="1.1" fill="#333"/>
<circle cx="500.68" cy="52.00" r="1.1" fill="#333"/>
<circle cx="504.03" cy="52.00" r="1.1" fill="#333"/>
<circle cx="122.65" cy="290.10" r="1.1" fill="#333"/>
<circle cx="222.50" cy="250.50" r="1.1" fill="#333"/>
<circle cx="277.95" cy="288.10" r="1.1" fill="#333"/>
<rect x="0" y="0" width="520" height="1" fill="#4d4d4d"/>
<rect x="1" y="1" width="518" height="1" fill="#8f8f8f"/>
<rect x="0" y="0" width="1" height="369" fill="#4d4d4d"/>
<rect x="1" y="1" width="1" height="367" fill="#8f8f8f"/>
<rect x="518" y="1" width="1" height="367" fill="#8f8f8f"/>
<rect x="519" y="0" width="1" height="369" fill="#4d4d4d"/>
<rect x="0" y="368" width="520" height="1" fill="#141414"/>
</svg>
</body></html>
